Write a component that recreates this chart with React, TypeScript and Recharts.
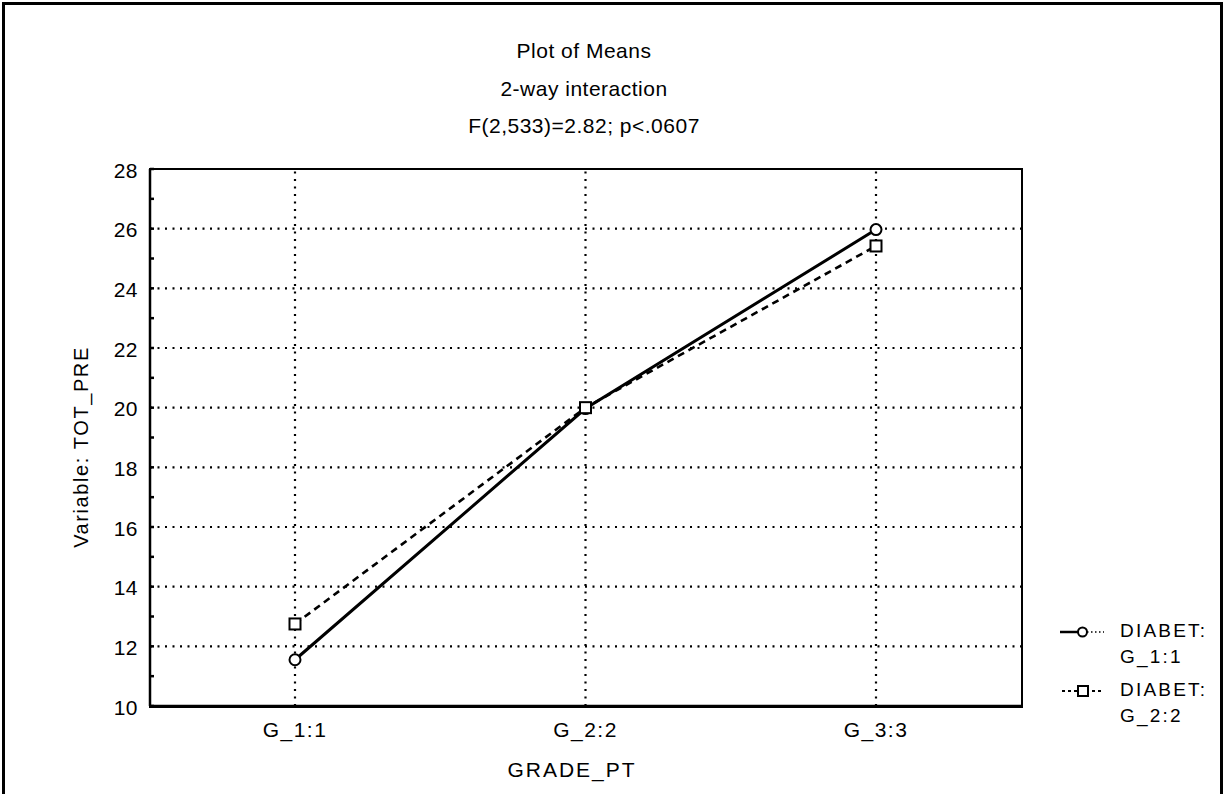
import React from 'react';
import { LineChart, Line, XAxis, YAxis, ReferenceLine } from 'recharts';

const categories = ['G_1:1', 'G_2:2', 'G_3:3'];
const diabetG1 = [11.55, 19.97, 25.97];
const diabetG2 = [12.75, 20.0, 25.42];
const yTicks = [10, 11, 12, 13, 14, 15, 16, 17, 18, 19, 20, 21, 22, 23, 24, 25, 26, 27, 28];
const yGrid = [12, 14, 16, 18, 20, 22, 24, 26];
const titleLines = ['Plot of Means', '2-way interaction', 'F(2,533)=2.82; p<.0607'];
const legendNames = ['DIABET:|G_1:1', 'DIABET:|G_2:2'];

const data = categories.map((c, i) => ({ grade: c, d1: diabetG1[i], d2: diabetG2[i] }));

const FONT = '"Liberation Sans", Arial, sans-serif';

const CircleDot = (p: any) => {
  if (p.cx == null || p.cy == null) return null;
  return <circle key={p.key} cx={p.cx} cy={p.cy} r={5.5} fill="#fff" stroke="#000" strokeWidth={2} />;
};
const SquareDot = (p: any) => {
  if (p.cx == null || p.cy == null) return null;
  return <rect key={p.key} x={p.cx - 5.5} y={p.cy - 5.5} width={11} height={11} fill="#fff" stroke="#000" strokeWidth={2} />;
};

const YTick = (p: any) => {
  const v = p.payload.value;
  const axisX = p.x + 12;
  return (
    <g>
      <line x1={axisX} x2={axisX + 4} y1={p.y} y2={p.y} stroke="#000" strokeWidth={2.5} />
      {v % 2 === 0 ? (
        <text x={p.x} y={p.y + 1} textAnchor="end" dominantBaseline="central" fontSize={21} fontFamily={FONT} fill="#000" letterSpacing={0.5}>
          {v}
        </text>
      ) : null}
    </g>
  );
};

export default function App() {
  return (
    <div style={{ position: 'absolute', left: 0, top: 0, width: 1227, height: 794, background: '#fff', overflow: 'hidden', fontFamily: FONT, color: '#000' }}>
      <div style={{ position: 'absolute', left: 2, top: 2, width: 1221, height: 820, borderLeft: '3px solid #000', borderTop: '3px solid #000', borderRight: '3px solid #000', boxSizing: 'border-box' }} />
      {titleLines.map((t, i) => (
        <div key={i} style={{ position: 'absolute', left: 184, width: 800, top: 40 + i * 37.5, textAlign: 'center', fontSize: 21, lineHeight: '22px', letterSpacing: 0.5 }}>{t}</div>
      ))}
      <LineChart width={1227} height={794} data={data} margin={{ top: 169, right: 206, bottom: 58, left: 90 }} style={{ position: 'absolute', left: 0, top: 0 }}>
        <XAxis dataKey="grade" padding={{ left: 145, right: 145 }} height={30} tickLine={false} tickSize={0} tickMargin={16} axisLine={{ stroke: '#000', strokeWidth: 2.5 }} tick={{ fill: '#000', fontSize: 21, fontFamily: FONT, letterSpacing: 1.5 }} />
        <YAxis type="number" domain={[10, 28]} ticks={yTicks} interval={0} width={60} tickLine={false} tickSize={0} tickMargin={12} axisLine={{ stroke: '#000', strokeWidth: 2.5 }} tick={<YTick />} />
        {yGrid.map((v) => (
          <ReferenceLine key={'h' + v} y={v} stroke="#000" strokeWidth={2.2} strokeDasharray="2 5.5" />
        ))}
        {categories.map((c) => (
          <ReferenceLine key={'v' + c} x={c} stroke="#000" strokeWidth={2.2} strokeDasharray="2 5.5" />
        ))}
        <Line dataKey="d1" stroke="#000" strokeWidth={3} isAnimationActive={false} dot={<CircleDot />} />
        <Line dataKey="d2" stroke="#000" strokeWidth={2.6} strokeDasharray="7 5" isAnimationActive={false} dot={<SquareDot />} />
      </LineChart>
      <div style={{ position: 'absolute', left: 149, top: 168, width: 874, height: 540, border: '2.5px solid #000', boxSizing: 'border-box', pointerEvents: 'none' }} />
      <div style={{ position: 'absolute', left: 81, top: 447, width: 0, height: 0 }}>
        <div style={{ position: 'absolute', transform: 'translate(-50%, -50%) rotate(-90deg)', whiteSpace: 'nowrap', fontSize: 20, letterSpacing: 1.6, lineHeight: '22px' }}>Variable: TOT_PRE</div>
      </div>
      <div style={{ position: 'absolute', left: 372, width: 400, top: 759, textAlign: 'center', fontSize: 21, lineHeight: '22px', letterSpacing: 2 }}>GRADE_PT</div>
      {legendNames.map((n, i) => {
        const [a, b] = n.split('|');
        const lineY = i === 0 ? 632 : 691;
        return (
          <div key={i}>
            <svg width={50} height={20} style={{ position: 'absolute', left: 1058, top: lineY - 10 }}>
              {i === 0 ? (
                <g>
                  <line x1={2} x2={20} y1={10} y2={10} stroke="#000" strokeWidth={2.5} />
                  <line x1={29} x2={46} y1={10} y2={10} stroke="#000" strokeWidth={1.5} strokeDasharray="1.5 2.5" />
                  <circle cx={24.5} cy={10} r={4.5} fill="#fff" stroke="#000" strokeWidth={2} />
                </g>
              ) : (
                <g>
                  <line x1={4} x2={46} y1={10} y2={10} stroke="#000" strokeWidth={2} strokeDasharray="3 3" />
                  <rect x={20} y={5} width={10} height={10} fill="#fff" stroke="#000" strokeWidth={2} />
                </g>
              )}
            </svg>
            <div style={{ position: 'absolute', left: 1120, top: lineY - 12, whiteSpace: 'nowrap', fontSize: 19, lineHeight: '22px', letterSpacing: 2.2 }}>{a}</div>
            <div style={{ position: 'absolute', left: 1120, top: lineY + 14, whiteSpace: 'nowrap', fontSize: 19, lineHeight: '22px', letterSpacing: 2.2 }}>{b}</div>
          </div>
        );
      })}
    </div>
  );
}
